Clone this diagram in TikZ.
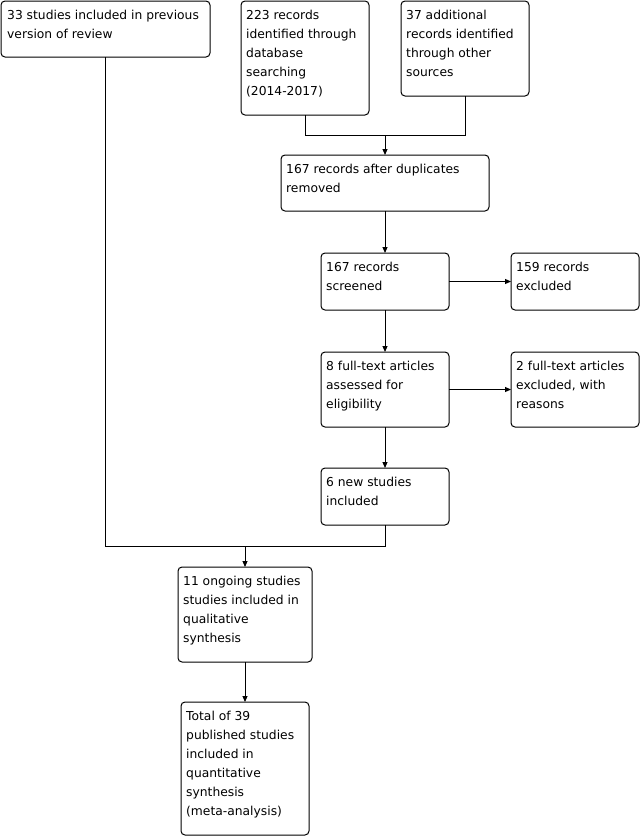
\documentclass[tikz,border=0pt]{standalone}
\usepackage{fontspec}
\setmainfont{DejaVu Sans}
\usetikzlibrary{arrows.meta}
\tikzset{
  box/.style={draw, line width=1pt, rounded corners=4pt, inner sep=0pt, outer sep=0pt, anchor=north west},
  txt/.style={anchor=north west, inner sep=0pt, align=left, font=\fontsize{12.3}{19}\selectfont},
  conn/.style={line width=1pt},
  arr/.style={line width=1pt, -{Triangle[length=6pt,width=5pt]}}
}
\begin{document}
\begin{tikzpicture}[x=1pt,y=-1pt]
\useasboundingbox (0,0) rectangle (642,836);
% boxes
\node[box, minimum width=209pt, minimum height=56pt] (b1) at (1,1) {};
\node[box, minimum width=128pt, minimum height=114pt] (b2) at (241,1) {};
\node[box, minimum width=128pt, minimum height=95pt] (b3) at (401,1) {};
\node[box, minimum width=208pt, minimum height=56pt] (b4) at (281,155) {};
\node[box, minimum width=128pt, minimum height=57pt] (b5) at (321,253) {};
\node[box, minimum width=128pt, minimum height=57pt] (b6) at (511,253) {};
\node[box, minimum width=128pt, minimum height=75pt] (b7) at (321,352) {};
\node[box, minimum width=128pt, minimum height=75pt] (b8) at (511,352) {};
\node[box, minimum width=128pt, minimum height=57pt] (b9) at (321,468) {};
\node[box, minimum width=134pt, minimum height=95pt] (b10) at (178,567) {};
\node[box, minimum width=128pt, minimum height=133pt] (b11) at (181,702) {};
% texts
\node[txt] (t1) at ([shift={(6pt,-4.7pt)}]b1.north west) {\strut 33 studies included in previous\\version of review};
\node[txt] (t2) at ([shift={(5pt,-4.7pt)}]b2.north west) {\strut 223 records\\identified through\\database\\searching\\(2014-2017)};
\node[txt] (t3) at ([shift={(5pt,-4.7pt)}]b3.north west) {\strut 37 additional\\records identified\\through other\\sources};
\node[txt] (t4) at ([shift={(5pt,-4.7pt)}]b4.north west) {\strut 167 records after duplicates\\removed};
\node[txt] (t5) at ([shift={(5pt,-4.7pt)}]b5.north west) {\strut 167 records\\screened};
\node[txt] (t6) at ([shift={(5pt,-4.7pt)}]b6.north west) {\strut 159 records\\excluded};
\node[txt] (t7) at ([shift={(5pt,-4.7pt)}]b7.north west) {\strut 8 full-text articles\\assessed for\\eligibility};
\node[txt] (t8) at ([shift={(5pt,-4.7pt)}]b8.north west) {\strut 2 full-text articles\\excluded, with\\reasons};
\node[txt] (t9) at ([shift={(5pt,-4.7pt)}]b9.north west) {\strut 6 new studies\\included};
\node[txt] (t10) at ([shift={(5pt,-4.7pt)}]b10.north west) {\strut 11 ongoing studies\\studies included in\\qualitative\\synthesis};
\node[txt] (t11) at ([shift={(5pt,-4.7pt)}]b11.north west) {\strut Total of 39\\published studies\\included in\\quantitative\\synthesis\\(meta-analysis)};
% connectors
\coordinate (j1) at (385,135);
\coordinate (j2) at (245,546);
\draw[conn] (b2.south) |- (j1);
\draw[conn] (b3.south) |- (j1);
\draw[arr] (j1) -- (b4.north);
\draw[arr] (b4.south) -- (b5.north);
\draw[arr] (b5.east) -- (b6.west);
\draw[arr] (b5.south) -- (b7.north);
\draw[arr] (b7.east) -- (b8.west);
\draw[arr] (b7.south) -- (b9.north);
\draw[conn] (b1.south) |- (j2);
\draw[conn] (b9.south) |- (j2);
\draw[arr] (j2) -- (b10.north);
\draw[arr] (b10.south) -- (b11.north);
\end{tikzpicture}
\end{document}
